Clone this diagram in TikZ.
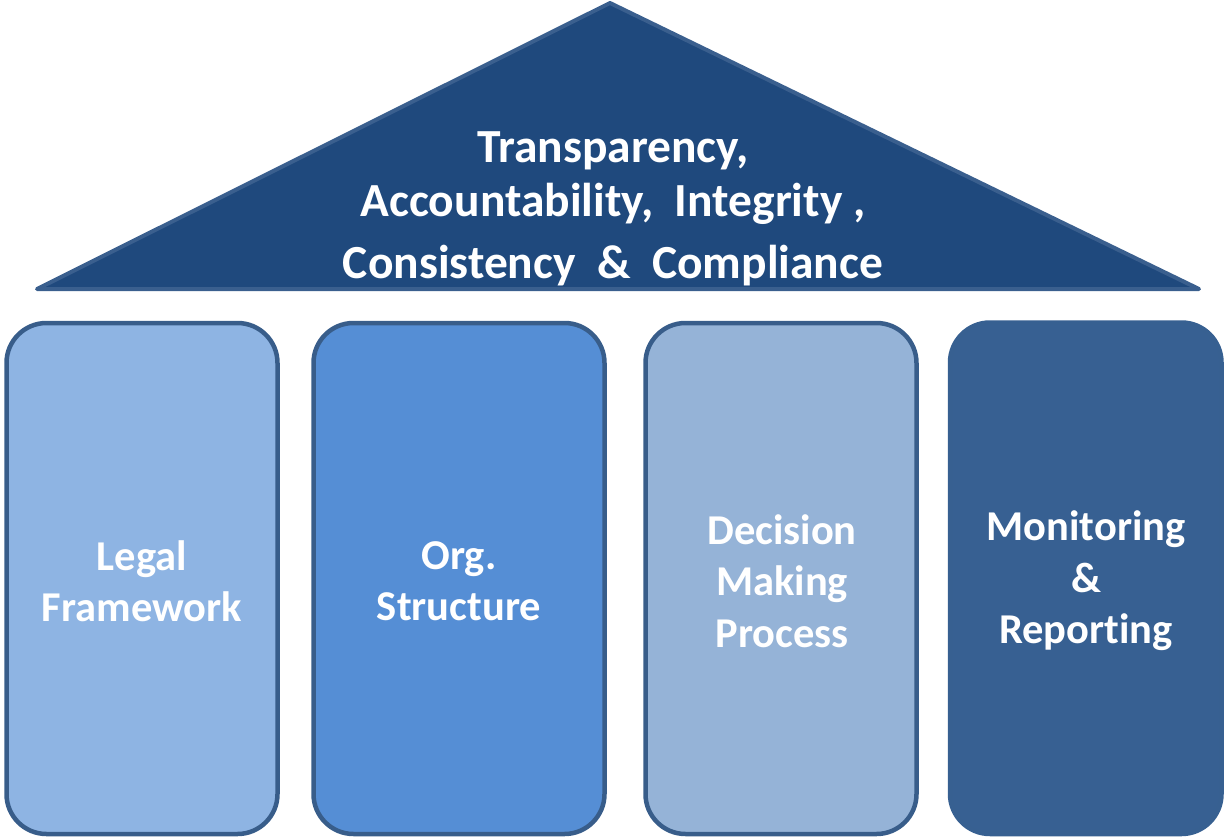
\documentclass[tikz,border=0pt]{standalone}
\usepackage{fontspec}
\setmainfont{Carlito}[Ligatures=NoCommon]
\definecolor{roofFill}{HTML}{1F497D}
\definecolor{roofLine}{HTML}{3A5F8E}
\definecolor{pillarLine}{HTML}{385D8A}
\definecolor{fillA}{HTML}{8EB4E3}
\definecolor{fillB}{HTML}{558ED5}
\definecolor{fillC}{HTML}{95B3D7}
\definecolor{fillD}{HTML}{376092}
\tikzset{
  pillar/.style={draw=pillarLine, line width=4.5pt, rounded corners=40pt},
  rooftext/.style={text=white, font=\fontsize{47.5}{55}\selectfont\bfseries, anchor=base, inner sep=0pt},
  pillartext/.style={text=white, font=\fontsize{42.5}{51.5}\selectfont\bfseries, align=center, inner sep=0pt},
}
\begin{document}
\begin{tikzpicture}[x=1pt,y=-1pt]
\useasboundingbox (0,0) rectangle (1224,838);
% roof
\draw[fill=roofFill, draw=roofLine, line width=4pt, line join=round]
  (37,289) coordinate (rl) -- (610,3) coordinate (apex) -- (1199,289) coordinate (rr) -- cycle;
\node[rooftext] (t1) at (613,162) {Transparency,};
\node[rooftext] (t2) at (613,216) {Accountability,~ Integrity ,};
\node[rooftext] (t3) at (613,278) {Consistency~ \&~ Compliance};
% pillars
\draw[pillar, fill=fillA] (6.5,323) rectangle (277.5,834);
\draw[pillar, fill=fillB] (313.5,323) rectangle (604.5,834);
\draw[pillar, fill=fillC] (645.5,323) rectangle (916.5,834);
\draw[pillar, fill=fillD, draw=fillD!90!pillarLine] (950,322.5) rectangle (1221.5,834);
\node[pillartext] (p1) at (142,581) {Legal\\Framework};
\node[pillartext] (p2) at (459,581) {Org.\\Structure};
\node[pillartext] (p3) at (782,581) {Decision\\Making\\Process};
\node[pillartext] (p4) at (1086,581) {Monitoring\\\&\\Reporting};
\end{tikzpicture}
\end{document}
